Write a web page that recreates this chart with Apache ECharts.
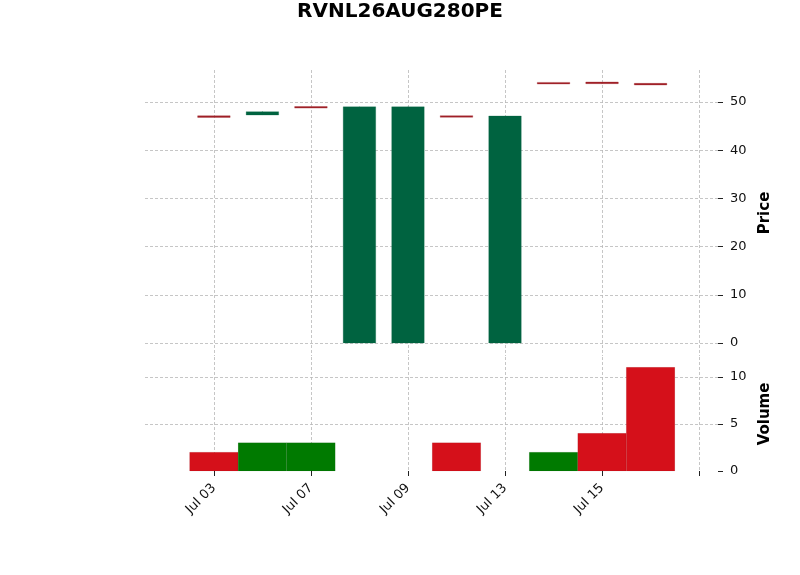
<!DOCTYPE html>
<html>
<head>
<meta charset="utf-8">
<script src="https://cdn.jsdelivr.net/npm/echarts@6/dist/echarts.min.js"></script>
<style>
html,body{margin:0;padding:0;background:#fff;}
#main{width:800px;height:575px;}
</style>
</head>
<body>
<div id="main"></div>
<script>
// 交易日
var dates = ['Jul 03','Jul 06','Jul 07','Jul 08','Jul 09','Jul 10','Jul 13','Jul 14','Jul 15','Jul 16'];
// K线数据
var opens  = [47.0, 47.3, 48.95, 0, 0, 47.05, 0, 53.95, 54.1, 53.75];
var closes = [46.95, 48.0, 48.85, 49.0, 49.0, 46.95, 47.1, 53.85, 53.85, 53.65];
var highs  = [47.0, 48.0, 48.95, 49.0, 49.0, 47.05, 47.1, 53.95, 54.1, 53.75];
var lows   = [46.95, 47.3, 48.85, 0, 0, 46.95, 0, 53.85, 53.85, 53.65];
// 成交量
var volumes = [2, 3, 3, 0, 0, 3, 0, 2, 4, 11];
// 刻度
var priceTicks = [0, 10, 20, 30, 40, 50];
var volumeTicks = [0, 5, 10];
var xTicks = [0, 2, 4, 6, 8, 10];
var xLabelTicks = [0, 2, 4, 6, 8];

var candleData = [];
var volumeData = [];
for (var i = 0; i < dates.length; i++) {
	candleData.push([i, opens[i], closes[i], lows[i], highs[i]]);
	// 成交量颜色: 收盘价对比前一日收盘价
	var up = i == 0 ? closes[i] > opens[i] : closes[i] > closes[i - 1];
	volumeData.push([i, volumes[i], up ? 1 : 0]);
}

var gridLine = {show: true, lineStyle: {color: '#b8b8b8', type: [3, 2], width: 0.8}};
var tickFont = {fontFamily: 'DejaVu Sans', fontSize: 13, color: '#111'};
var nameFont = {fontFamily: 'DejaVu Sans', fontSize: 15, fontWeight: 'bold', color: '#000'};

function renderCandle(params, api) {
	var i = api.value(0);
	var o = api.value(1), c = api.value(2);
	var pO = api.coord([i, o]), pC = api.coord([i, c]);
	var pL = api.coord([i, api.value(3)]), pH = api.coord([i, api.value(4)]);
	var w = api.size([0.67, 0])[0];
	var color = c >= o ? '#006340' : '#a02128';
	var h = Math.abs(pO[1] - pC[1]);
	var mid = (pO[1] + pC[1]) / 2;
	if (h < 1.6) h = 1.6;
	return {
		type: 'group',
		children: [
			{type: 'line', shape: {x1: pH[0], y1: pH[1], x2: pL[0], y2: pL[1]}, style: {stroke: color, lineWidth: 1}},
			{type: 'rect', shape: {x: pO[0] - w / 2, y: mid - h / 2, width: w, height: h},
				style: {fill: color, stroke: c >= o ? 'rgba(0,99,64,0.25)' : 'rgba(160,33,40,0.3)', lineWidth: 1}}
		]
	};
}

function renderVolume(params, api) {
	var i = api.value(0);
	var v = api.value(1);
	if (!v) return null;
	var a = api.coord([i - 0.5, v]);
	var b = api.coord([i + 0.5, 0]);
	var color = api.value(2) ? '#007a00' : '#d5101a';
	return {
		type: 'rect',
		shape: {x: a[0], y: a[1], width: b[0] - a[0], height: b[1] - a[1]},
		style: {fill: color, stroke: 'rgba(0,0,0,0.12)', lineWidth: 0.5}
	};
}

var chart = echarts.init(document.getElementById('main'));
chart.setOption({
	animation: false,
	backgroundColor: '#fff',
	title: {
		text: 'RVNL26AUG280PE',
		left: 'center',
		top: -3,
		textStyle: {fontFamily: 'DejaVu Sans', fontSize: 20, fontWeight: 'bold', color: '#000'}
	},
	grid: [
		{left: 145, right: 82, top: 70, height: 286},
		{left: 145, right: 82, top: 357, height: 114}
	],
	xAxis: [
		{
			type: 'value', gridIndex: 0, min: -1.42, max: 10.39,
			axisLine: {show: false, onZero: false},
			axisTick: {show: false, customValues: xTicks},
			axisLabel: {show: false, customValues: xLabelTicks},
			splitLine: gridLine
		},
		{
			type: 'value', gridIndex: 1, min: -1.42, max: 10.39,
			axisLine: {show: false, onZero: false},
			axisTick: {show: true, customValues: xTicks, length: 5, lineStyle: {color: '#222'}},
			axisLabel: {
				customValues: xLabelTicks, rotate: 45, margin: 15,
				formatter: function (v) { return dates[v] || ''; },
				fontFamily: 'DejaVu Sans', fontSize: 13, color: '#111'
			},
			splitLine: gridLine
		}
	],
	yAxis: [
		{
			type: 'value', gridIndex: 0, position: 'right', min: -2.7, max: 56.64,
			name: 'Price', nameLocation: 'middle', nameGap: 34, nameRotate: 90,
			nameTextStyle: nameFont,
			axisLine: {show: false, onZero: false},
			axisTick: {show: true, customValues: priceTicks, length: 5, lineStyle: {color: '#222'}},
			axisLabel: Object.assign({customValues: priceTicks, margin: 12}, tickFont),
			splitLine: gridLine
		},
		{
			type: 'value', gridIndex: 1, position: 'right', min: 0, max: 12.1,
			name: 'Volume', nameLocation: 'middle', nameGap: 34, nameRotate: 90,
			nameTextStyle: nameFont,
			axisLine: {show: false, onZero: false},
			axisTick: {show: true, customValues: volumeTicks, length: 5, lineStyle: {color: '#222'}},
			axisLabel: Object.assign({customValues: volumeTicks, margin: 12}, tickFont),
			splitLine: Object.assign({showMinLine: false}, gridLine)
		}
	],
	series: [
		{
			type: 'custom', name: 'price', xAxisIndex: 0, yAxisIndex: 0,
			renderItem: renderCandle,
			encode: {x: 0, y: [1, 2, 3, 4]},
			data: candleData
		},
		{
			type: 'custom', name: 'volume', xAxisIndex: 1, yAxisIndex: 1,
			renderItem: renderVolume,
			encode: {x: 0, y: 1},
			data: volumeData
		}
	]
});
</script>
</body>
</html>
